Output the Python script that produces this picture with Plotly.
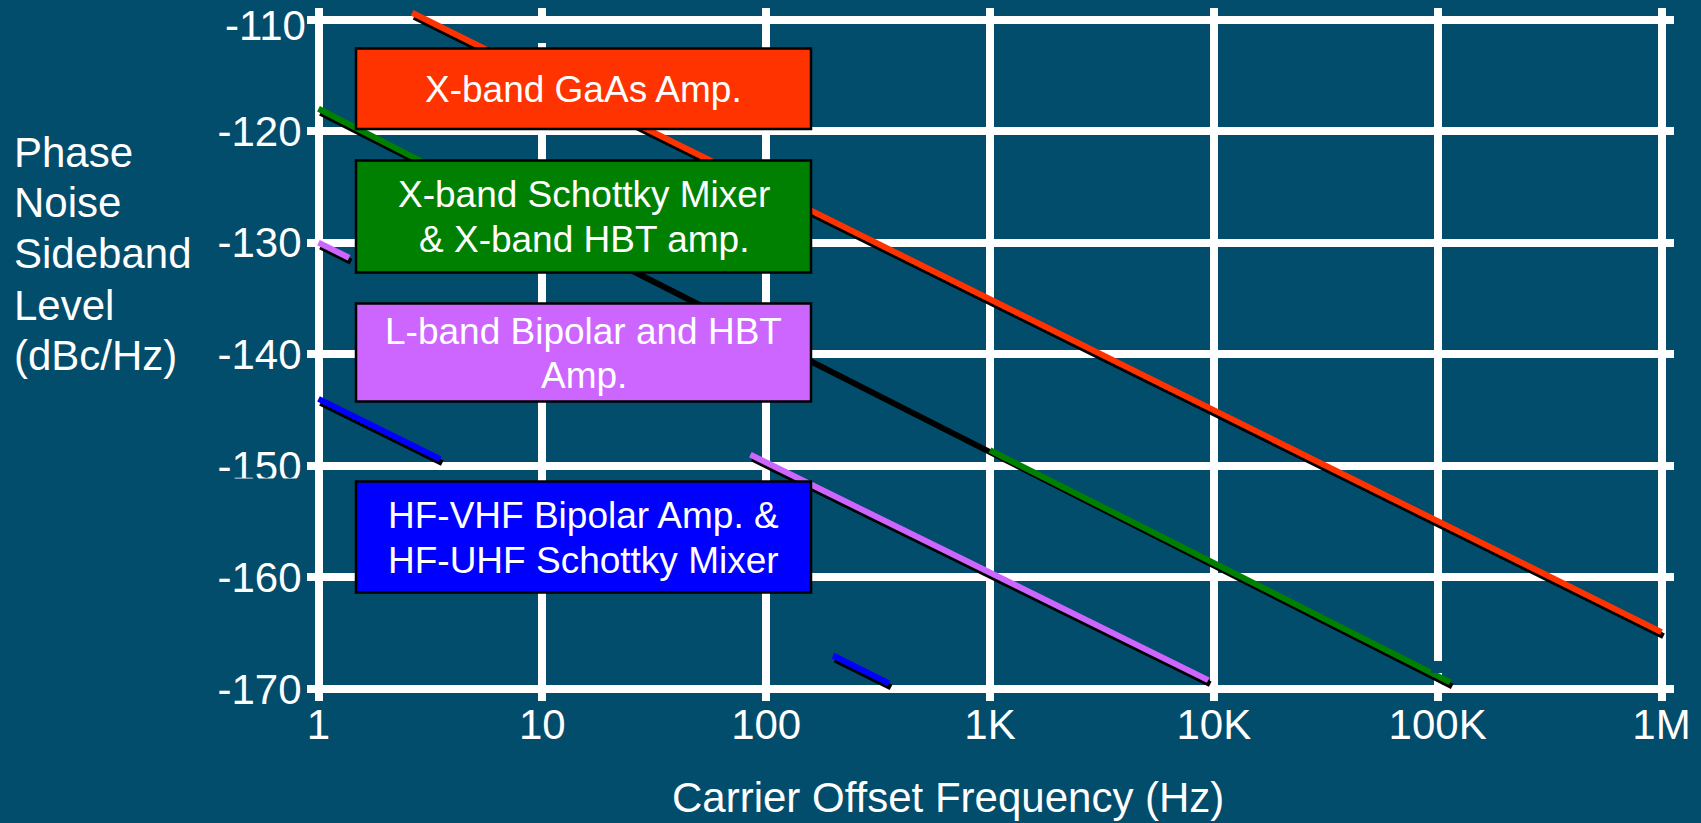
import plotly.graph_objects as go

# ---------------- data ----------------
freq_ticks = [1, 10, 100, 1e3, 1e4, 1e5, 1e6]
freq_labels = ['1', '10', '100', '1K', '10K', '100K', '1M']
level_ticks = [-170, -160, -150, -140, -130, -120, -110]
level_labels = ['-170', '-160', '-150', '-140', '-130', '-120', '-110']

# visible segments of each curve (Hz, dBc/Hz); None separates hidden parts
red_f = [2.62, 1e6]
red_db = [-109.4, -164.9]
green_f = [1, 3, None, 1000, 113800]
green_db = [-118.0, -122.9, None, -148.6, -169.4]
green_shadow_f = [1, 113800]
green_shadow_db = [-118.0, -169.4]
violet_f = [1, 1.37, None, 85, 9440]
violet_db = [-130.0, -131.35, None, -149.0, -169.2]
blue_f = [1, 3.5, None, 199, 354]
blue_db = [-144.0, -149.4, None, -167.0, -169.5]

legend_lines = [
    ['X-band GaAs Amp.'],
    ['X-band Schottky Mixer', '& X-band HBT amp.'],
    ['L-band Bipolar and HBT', 'Amp.'],
    ['HF-VHF Bipolar Amp. &', 'HF-UHF Schottky Mixer'],
]
legend_colors = ['#FF3300', '#008000', '#CC66FF', '#0000FF']
y_title_lines = ['Phase', 'Noise', 'Sideband', 'Level', '(dBc/Hz)']
x_title = 'Carrier Offset Frequency (Hz)'

# ---------------- geometry ----------------
W, H = 1701, 823
BG = '#024C6C'
FONT = 'Liberation Sans, Arial, sans-serif'
AXFS = 42
X0, X1 = 318.5, 1661.5      # plot area in px
Y0, Y1 = 19.5, 689.0
PXDEC = (X1 - X0) / 6.0
PXDB = (Y1 - Y0) / 60.0
E = 12.0                     # extension of axes beyond the frame (px)
SDX, SDY = 2.0, 4.0          # shadow offset (px)
LW = 6


def px(x):
    return x / W


def py(y):
    return 1 - y / H


def dom_x(shift=0.0):
    return [px(X0 - E + shift), px(X1 + E + shift)]


def dom_y(shift=0.0):
    return [py(Y1 + E + shift), py(Y0 - E + shift)]


xr_ext = [0 - E / PXDEC, 6 + E / PXDEC]
yr_ext = [-170 - E / PXDB, -110 + E / PXDB]

fig = go.Figure()

# dummy on main axes (gridlines subplot)
fig.add_trace(go.Scatter(x=[1], y=[-170], mode='markers', marker=dict(opacity=0),
                         hoverinfo='skip', showlegend=False, xaxis='x', yaxis='y'))

# shadows
shadow_sets = [(red_f, red_db), (green_shadow_f, green_shadow_db),
               (violet_f, violet_db), (blue_f, blue_db)]
for f, d in shadow_sets:
    fig.add_trace(go.Scatter(x=f, y=d, mode='lines', line=dict(color='black', width=LW),
                             connectgaps=False, hoverinfo='skip', showlegend=False,
                             xaxis='x2', yaxis='y2'))

# coloured lines
color_sets = [(red_f, red_db, legend_colors[0]), (green_f, green_db, legend_colors[1]),
              (violet_f, violet_db, legend_colors[2]), (blue_f, blue_db, legend_colors[3])]
for f, d, c in color_sets:
    fig.add_trace(go.Scatter(x=f, y=d, mode='lines', line=dict(color=c, width=LW),
                             connectgaps=False, hoverinfo='skip', showlegend=False,
                             xaxis='x3', yaxis='y3'))

tickfont = dict(family=FONT, size=AXFS, color='white')

shapes = []
annotations = []

# masks for gridline gaps and the clipped -150 label
for (mx0, mx1, my0, my1) in [(536, 549, 24, 43), (1431, 1444, 661, 673), (200, 312, 478.5, 494)]:
    shapes.append(dict(type='rect', xref='paper', yref='paper', layer='above',
                       x0=px(mx0), x1=px(mx1), y0=py(my1), y1=py(my0),
                       fillcolor=BG, line=dict(width=0)))

# legend boxes
boxes = [(48.5, 129), (160.5, 272.5), (303.5, 401.5), (481.5, 592.5)]
baselines = [[102], [207, 252], [344, 388], [528, 573]]
BX0, BX1 = 356, 811
for (t, b), col, lines, bls in zip(boxes, legend_colors, legend_lines, baselines):
    shapes.append(dict(type='rect', xref='paper', yref='paper', layer='above',
                       x0=px(BX0), x1=px(BX1), y0=py(b), y1=py(t),
                       fillcolor=col, line=dict(color='black', width=2.5)))
    for txt, bl in zip(lines, bls):
        annotations.append(dict(text=txt, xref='paper', yref='paper',
                                x=px((BX0 + BX1) / 2), y=py(bl - 0.3465 * 37),
                                xanchor='center', yanchor='middle', showarrow=False,
                                font=dict(family=FONT, size=37, color='white')))

# top y tick label sits a little below its gridline in the reference
annotations.append(dict(text=level_labels[-1], xref='paper', yref='paper',
                        x=px(308), y=py(25), xanchor='right', yanchor='middle',
                        showarrow=False, font=tickfont))
axis_level_labels = level_labels[:-1] + ['']

# y title
for txt, bl in zip(y_title_lines, [167, 217, 268, 320, 370]):
    annotations.append(dict(text=txt, xref='paper', yref='paper',
                            x=px(12), y=py(bl - 0.3465 * AXFS),
                            xanchor='left', yanchor='middle', showarrow=False,
                            font=dict(family=FONT, size=AXFS, color='white')))
# x title
annotations.append(dict(text=x_title, xref='paper', yref='paper',
                        x=px(948), y=py(812 - 0.3465 * AXFS),
                        xanchor='center', yanchor='middle', showarrow=False,
                        font=dict(family=FONT, size=AXFS, color='white')))

hidden = dict(visible=False, showgrid=False, zeroline=False, fixedrange=True, automargin=False)

fig.update_layout(
    width=W, height=H, autosize=False,
    margin=dict(l=0, r=0, t=0, b=0, pad=0, autoexpand=False),
    paper_bgcolor=BG, plot_bgcolor='rgba(0,0,0,0)',
    showlegend=False,
    xaxis=dict(type='log', range=xr_ext, domain=dom_x(), anchor='y',
               tickvals=freq_ticks, ticktext=freq_labels, ticks='',
               showgrid=True, gridcolor='white', gridwidth=8,
               showline=False, zeroline=False, tickfont=tickfont, automargin=False,
               ticklabelstandoff=-5, ticklabeloverflow='allow', fixedrange=True),
    yaxis=dict(range=yr_ext, domain=dom_y(), anchor='x',
               tickvals=level_ticks, ticktext=axis_level_labels, ticks='',
               showgrid=True, gridcolor='white', gridwidth=8,
               showline=False, zeroline=False, tickfont=tickfont, automargin=False,
               ticklabelstandoff=4, ticklabeloverflow='allow', fixedrange=True),
    xaxis2=dict(type='log', range=xr_ext, domain=dom_x(SDX), anchor='y2', **hidden),
    yaxis2=dict(range=yr_ext, domain=dom_y(SDY), anchor='x2', **hidden),
    xaxis3=dict(type='log', range=xr_ext, domain=dom_x(0), anchor='y3', **hidden),
    yaxis3=dict(range=yr_ext, domain=dom_y(0), anchor='x3', **hidden),
    shapes=shapes,
    annotations=annotations,
)

fig.write_html('out.html', config={'displayModeBar': False, 'responsive': False})

# remove the default page margin so the figure fills the window exactly
with open('out.html', encoding='utf-8') as fh:
    html = fh.read()
html = html.replace('<head>', '<head><style>html,body{margin:0;padding:0;overflow:hidden;}</style>', 1)
with open('out.html', 'w', encoding='utf-8') as fh:
    fh.write(html)
